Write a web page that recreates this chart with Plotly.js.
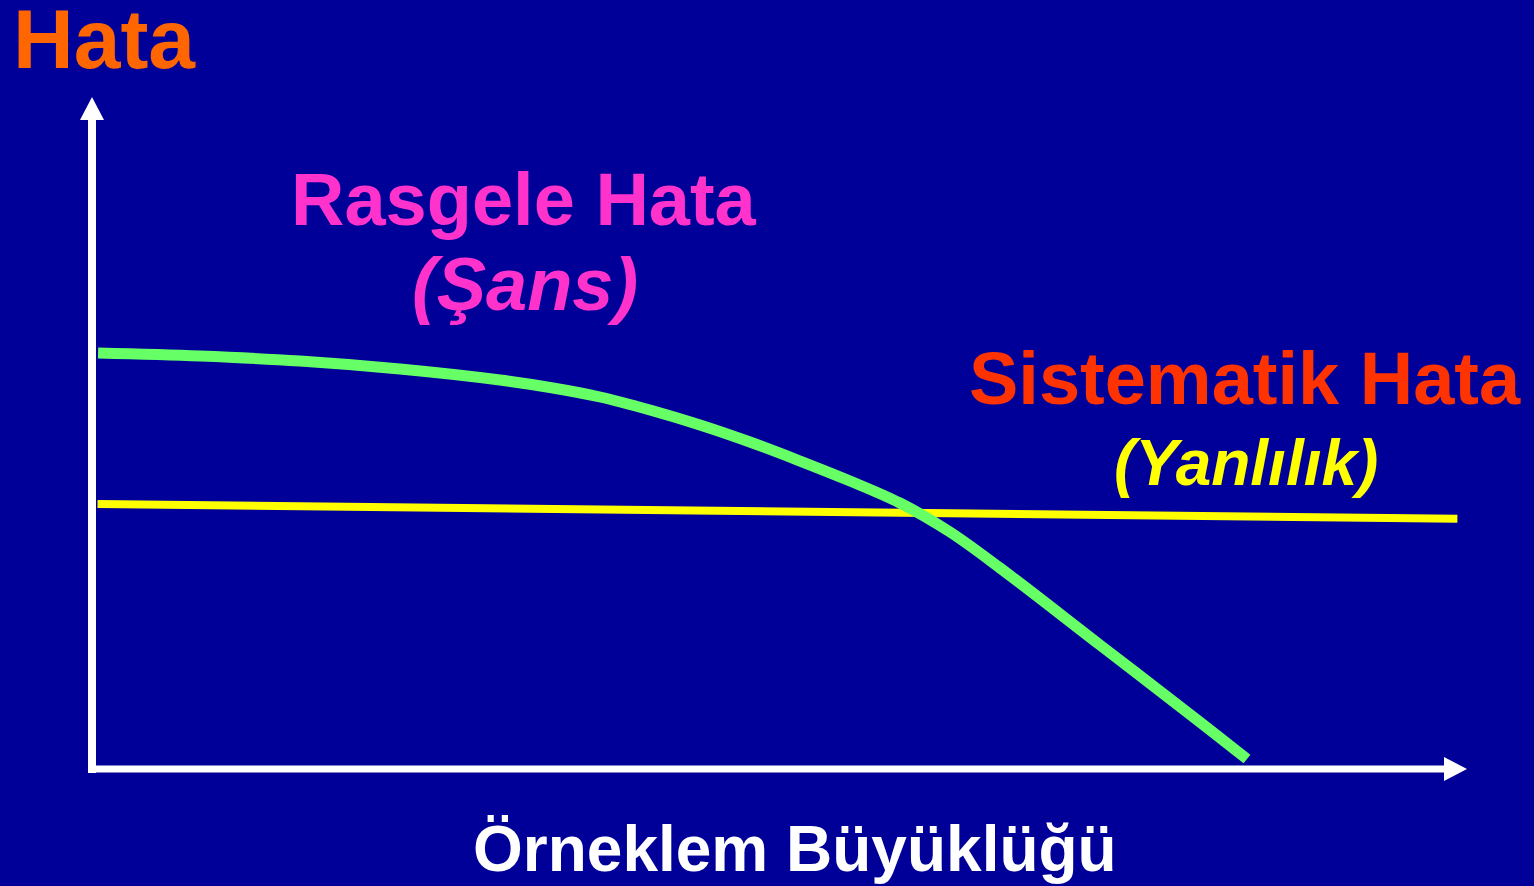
<!DOCTYPE html>
<html>
<head>
<meta charset="utf-8">
<script src="https://cdn.plot.ly/plotly-3.0.1.min.js"></script>
<style>
  html, body { margin: 0; padding: 0; background: #000099; }
  #chart { width: 1534px; height: 886px; }
</style>
</head>
<body>
<div id="chart"></div>
<script>
// Random error (chance) falls as sample size grows
const sampleSize   = [0.44, 7.85, 15.13, 22.40, 29.67, 33.31, 36.95, 40.58, 44.22, 47.85, 51.49, 55.13, 58.76, 62.40, 66.04, 73.31, 80.58, 84.0];
const randomError  = [62.0, 61.55, 60.80, 59.61, 57.97, 56.86, 55.44, 53.50, 51.27, 48.73, 45.90, 42.92, 39.64, 35.32, 29.96, 18.48, 7.00, 1.49];

// Systematic error (bias) stays almost flat
const biasSize     = [0.4, 99.3];
const biasError    = [39.5, 37.3];

const titleText    = 'Hata';
const xTitleText   = 'Örneklem Büyüklüğü';
const randomLabel  = 'Rasgele Hata';
const randomSub    = '(Şans)';
const biasLabel    = 'Sistematik Hata';
const biasSub      = '(Yanlılık)';

// plot frame in pixels
const F = { l: 92, t: 98, w: 1375, h: 671 };
const fx = x => (x - F.l) / F.w;
const fy = y => (F.t + F.h - y) / F.h;

const FONT = 'Liberation Sans, Arial, sans-serif';

const traces = [
  {
    x: biasSize, y: biasError, mode: 'lines', type: 'scatter',
    line: { color: '#FFFF00', width: 8 }, hoverinfo: 'skip'
  },
  {
    x: sampleSize, y: randomError, mode: 'lines', type: 'scatter',
    line: { color: '#66FF66', width: 11, shape: 'spline', smoothing: 1 }, hoverinfo: 'skip'
  }
];

function label(text, cx, cy, size, color) {
  return {
    text: text, xref: 'paper', yref: 'paper',
    x: fx(cx), y: fy(cy), xanchor: 'center', yanchor: 'middle',
    showarrow: false, font: { family: FONT, size: size, color: color }
  };
}

const layout = {
  width: 1534, height: 886,
  paper_bgcolor: '#000099', plot_bgcolor: '#000099',
  margin: { l: F.l, r: 1534 - F.l - F.w, t: F.t, b: 886 - F.t - F.h, pad: 0 },
  showlegend: false,
  xaxis: { range: [0, 100], visible: false, fixedrange: true },
  yaxis: { range: [0, 100], visible: false, fixedrange: true },
  shapes: [
    // y axis with arrowhead
    { type: 'line', xref: 'paper', yref: 'paper', x0: fx(92), x1: fx(92), y0: fy(773), y1: fy(118),
      line: { color: '#FFFFFF', width: 8 }, layer: 'above' },
    { type: 'path', xref: 'paper', yref: 'paper',
      path: `M ${fx(80)} ${fy(120)} L ${fx(104)} ${fy(120)} L ${fx(92)} ${fy(97)} Z`,
      fillcolor: '#FFFFFF', line: { width: 0 }, layer: 'above' },
    // x axis with arrowhead
    { type: 'line', xref: 'paper', yref: 'paper', x0: fx(88), x1: fx(1446), y0: fy(769), y1: fy(769),
      line: { color: '#FFFFFF', width: 7 }, layer: 'above' },
    { type: 'path', xref: 'paper', yref: 'paper',
      path: `M ${fx(1444)} ${fy(757)} L ${fx(1444)} ${fy(781)} L ${fx(1467)} ${fy(769)} Z`,
      fillcolor: '#FFFFFF', line: { width: 0 }, layer: 'above' }
  ],
  annotations: [
    label('<b>' + titleText + '</b>', 104, 39, 84, '#FF6600'),
    label('<b>' + randomLabel + '</b>', 524, 199, 74, '#FF33CC'),
    label('<b><i>' + randomSub + '</i></b>', 525, 284, 74, '#FF33CC'),
    label('<b>' + biasLabel + '</b>', 1245, 379, 74, '#FF3300'),
    label('<b><i>' + biasSub + '</i></b>', 1246, 463, 64, '#FFFF00'),
    label('<b>' + xTitleText + '</b>', 795, 849, 64, '#FFFFFF')
  ]
};

Plotly.newPlot('chart', traces, layout, { staticPlot: true, displayModeBar: false });
</script>
</body>
</html>
